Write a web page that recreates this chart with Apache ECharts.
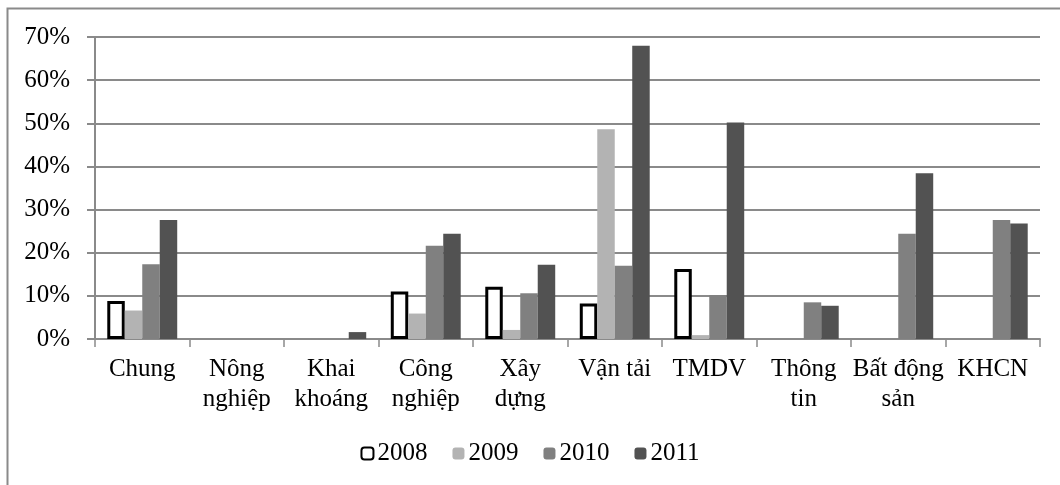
<!DOCTYPE html>
<html>
<head>
<meta charset="utf-8">
<script src="https://cdn.jsdelivr.net/npm/echarts@6/dist/echarts.min.js"></script>
<style>
  html, body { margin: 0; padding: 0; background: #ffffff; }
  #chart { width: 1060px; height: 485px; }
</style>
</head>
<body>
<div id="chart"></div>
<script>
// ngành
var categories = ['Chung', 'Nông\nnghiệp', 'Khai\nkhoáng', 'Công\nnghiệp', 'Xây\ndựng',
  'Vận tải', 'TMDV', 'Thông\ntin', 'Bất động\nsản', 'KHCN'];
// % theo năm (null = không có cột)
var y2008 = [8.8, null, null, 11.0, 12.1, 8.2, 16.2, null, null, null];
var y2009 = [6.6, null, null, 5.9, 2.1, 48.6, 0.9, null, null, null];
var y2010 = [17.3, null, null, 21.6, 10.6, 17.0, 10.2, 8.5, 24.4, 27.6];
var y2011 = [27.6, null, 1.6, 24.4, 17.2, 68.0, 50.2, 7.7, 38.4, 26.8];
var yTicks = { min: 0, max: 70, step: 10 };

var font = '"Liberation Serif", "Times New Roman", serif';
var grey = '#8a8a8a';

var chart = echarts.init(document.getElementById('chart'), null, { renderer: 'canvas' });

function bar(name, data, color, extra) {
  return {
    name: name,
    type: 'bar',
    data: data,
    barGap: '0%',
    barCategoryGap: '26%',
    legendIcon: 'rect',
    itemStyle: Object.assign({ color: color }, extra || {})
  };
}

chart.setOption({
  animation: false,
  textStyle: { fontFamily: font },
  graphic: [{
    type: 'rect',
    shape: { x: 7.5, y: 8.5, width: 1100, height: 520 },
    style: { fill: 'none', stroke: grey, lineWidth: 2 },
    silent: true
  }],
  grid: { left: 95, right: 20, top: 37, bottom: 146 },
  legend: {
    bottom: 14,
    left: 'center',
    itemWidth: 12,
    itemHeight: 12,
    itemGap: 25,
    itemStyle: { borderWidth: 2 },
    textStyle: { fontFamily: font, fontSize: 25, color: '#000', padding: [0, 0, 0, -1] },
    data: ['2008', '2009', '2010', '2011']
  },
  xAxis: {
    type: 'category',
    data: categories,
    axisLine: { lineStyle: { color: grey, width: 2 } },
    axisTick: { show: true, length: 8, lineStyle: { color: grey, width: 1.5 } },
    axisLabel: {
      interval: 0,
      margin: 15,
      fontFamily: font,
      fontSize: 25,
      lineHeight: 30,
      color: '#000'
    }
  },
  yAxis: {
    type: 'value',
    min: yTicks.min,
    max: yTicks.max,
    interval: yTicks.step,
    axisLine: { show: true, lineStyle: { color: grey, width: 2 } },
    axisTick: { show: true, length: 8, lineStyle: { color: grey, width: 2 } },
    splitLine: { lineStyle: { color: grey, width: 2 } },
    axisLabel: {
      margin: 25,
      formatter: '{value}%',
      fontFamily: font,
      fontSize: 25,
      color: '#000'
    }
  },
  series: [
    bar('2008', y2008, '#ffffff', { borderColor: '#000', borderWidth: 3 }),
    bar('2009', y2009, '#b3b3b3'),
    bar('2010', y2010, '#808080'),
    bar('2011', y2011, '#525252')
  ]
});
</script>
</body>
</html>
